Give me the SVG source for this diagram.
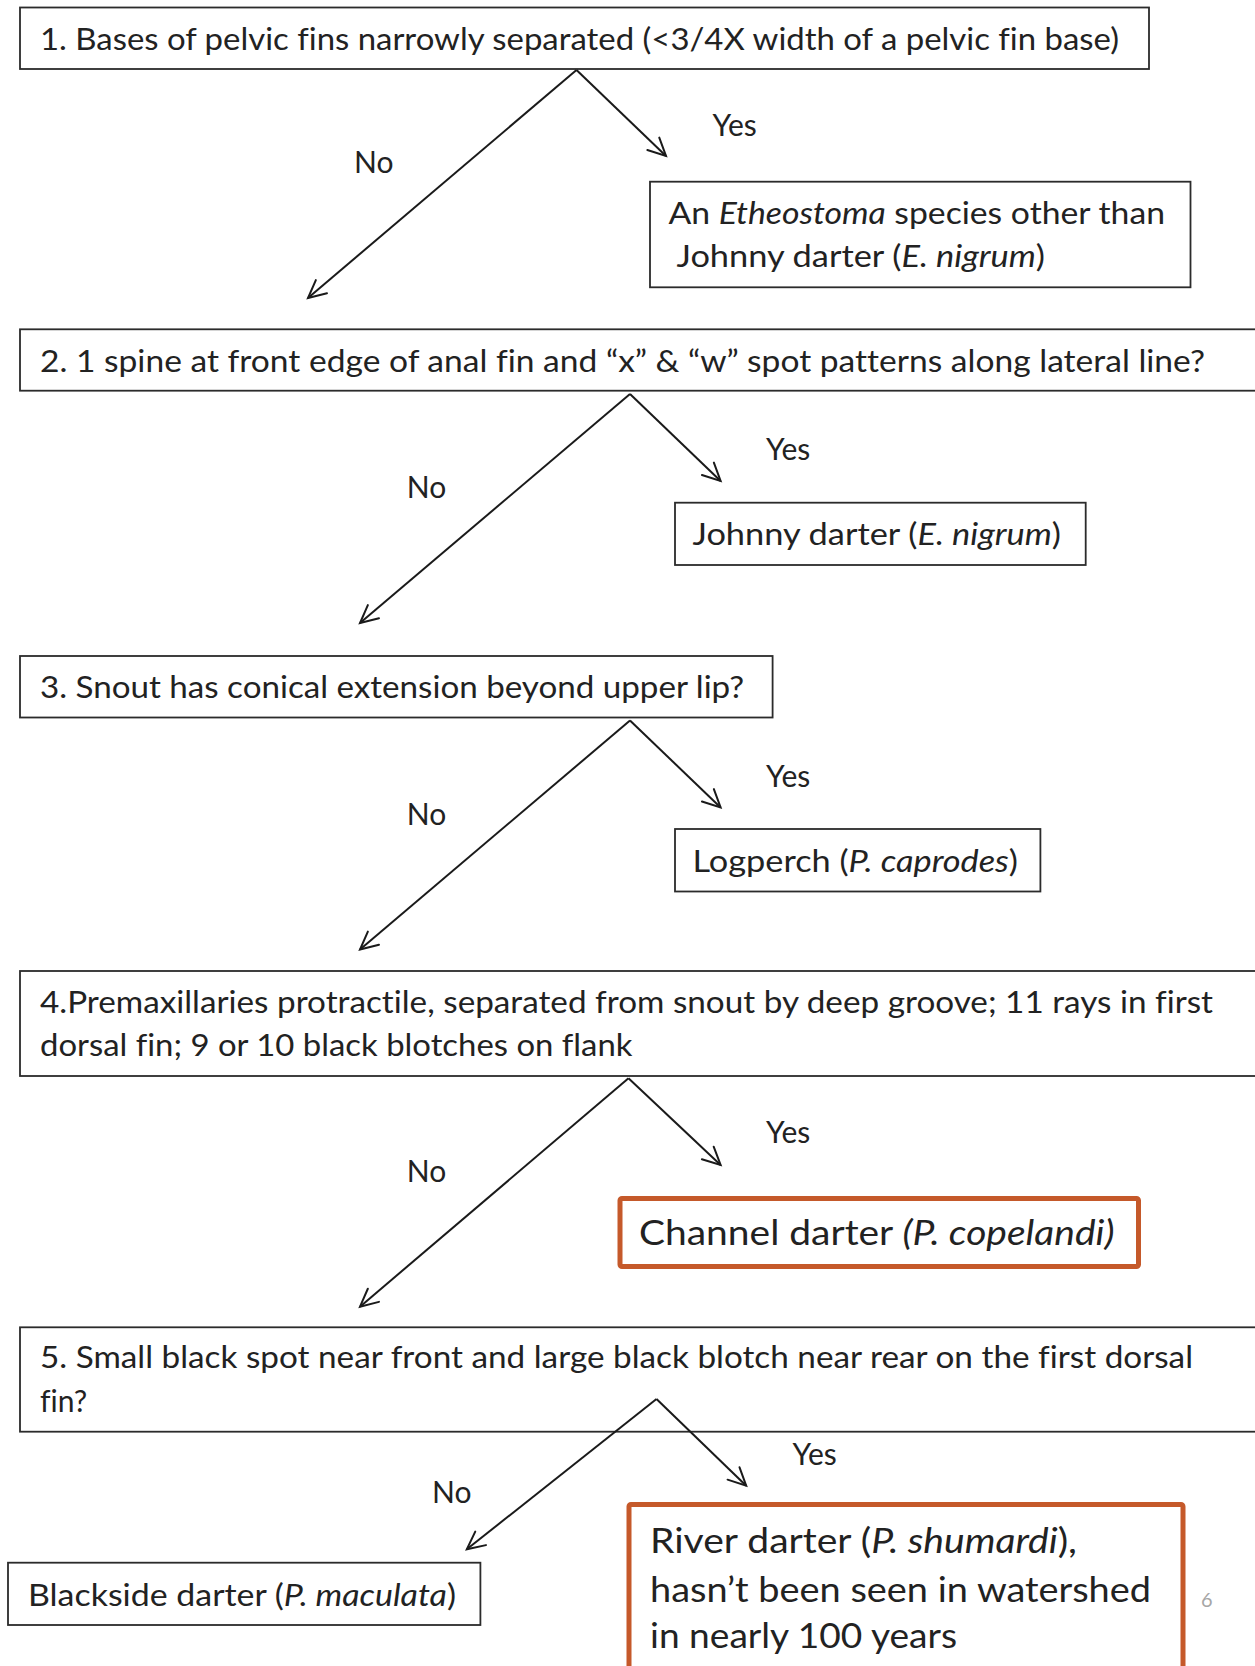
<svg xmlns="http://www.w3.org/2000/svg" width="1255" height="1666" viewBox="0 0 1255 1666">
<style>
  text { font-variant-ligatures: none; font-feature-settings: "liga" 0, "clig" 0; }
  .box { fill: #ffffff; stroke: #2b2b2b; stroke-width: 1.8; }
  .hl { fill: #ffffff; stroke: #C5592A; stroke-width: 5; stroke-linejoin: round; }
  .t { font-family: Lato, "Open Sans", "Liberation Sans", sans-serif; font-size: 30px; fill: #222222; }
  .tb { font-family: Lato, "Open Sans", "Liberation Sans", sans-serif; font-size: 35px; fill: #222222; }
  .lbl { font-family: Lato, "Open Sans", "Liberation Sans", sans-serif; font-size: 30px; fill: #222222; }
  .pg { font-family: Lato, "Open Sans", "Liberation Sans", sans-serif; font-size: 20px; fill: #a6a6a6; }
  .i { font-style: italic; }
  .edge { fill: none; stroke: #1a1a1a; stroke-width: 2; marker-end: url(#arr); }
</style>
<defs>
  <marker id="arr" markerUnits="userSpaceOnUse" viewBox="-22 -12 26 24" markerWidth="26" markerHeight="24" refX="0" refY="0" orient="auto" overflow="visible">
    <path d="M-17.6,-8.6 L0,0 L-17.6,8.6" fill="none" stroke="#1a1a1a" stroke-width="2" stroke-linecap="round" stroke-linejoin="miter"/>
  </marker>
</defs>
<rect x="0" y="0" width="1255" height="1666" fill="#ffffff"/>

<g id="q1">
  <rect class="box" x="20" y="7.5" width="1129" height="61.5"/>
  <text class="t" x="40" y="50" textLength="1079" lengthAdjust="spacingAndGlyphs">1. Bases of pelvic fins narrowly separated (&lt;3/4X width of a pelvic fin base)</text>
</g>
<g id="a1">
  <rect class="box" x="650" y="181.7" width="540.5" height="105.6"/>
  <text class="t" x="668.5" y="224" textLength="496.5" lengthAdjust="spacingAndGlyphs">An <tspan class="i">Etheostoma</tspan> species other than</text>
  <text class="t" x="676.5" y="266.5" textLength="368.5" lengthAdjust="spacingAndGlyphs">Johnny darter (<tspan class="i">E. nigrum</tspan>)</text>
</g>

<g id="q2">
  <rect class="box" x="20" y="329.3" width="1250" height="61.4"/>
  <text class="t" x="40" y="371.7" textLength="1165" lengthAdjust="spacingAndGlyphs">2. 1 spine at front edge of anal fin and “x” &amp; “w” spot patterns along lateral line?</text>
</g>
<g id="a2">
  <rect class="box" x="675" y="502.7" width="410.7" height="62.3"/>
  <text class="t" x="692.5" y="545" textLength="368.5" lengthAdjust="spacingAndGlyphs">Johnny darter (<tspan class="i">E. nigrum</tspan>)</text>
</g>

<g id="q3">
  <rect class="box" x="20" y="656" width="752.6" height="61.5"/>
  <text class="t" x="40" y="698" textLength="704" lengthAdjust="spacingAndGlyphs">3. Snout has conical extension beyond upper lip?</text>
</g>
<g id="a3">
  <rect class="box" x="675" y="829" width="365.4" height="62.5"/>
  <text class="t" x="692.5" y="871.5" textLength="325.5" lengthAdjust="spacingAndGlyphs">Logperch (<tspan class="i">P. caprodes</tspan>)</text>
</g>

<g id="q4">
  <rect class="box" x="20" y="971" width="1250" height="105"/>
  <text class="t" x="40" y="1013.3" textLength="1173" lengthAdjust="spacingAndGlyphs">4.Premaxillaries protractile, separated from snout by deep groove; 11 rays in first</text>
  <text class="t" x="40" y="1056" textLength="592.5" lengthAdjust="spacingAndGlyphs">dorsal fin; 9 or 10 black blotches on flank</text>
</g>
<g id="a4">
  <rect class="hl" x="620" y="1198.5" width="518.5" height="68" rx="2"/>
  <text class="tb" x="639" y="1245" textLength="475.5" lengthAdjust="spacingAndGlyphs">Channel darter <tspan class="i">(P. copelandi)</tspan></text>
</g>

<g id="q5">
  <rect class="box" x="20" y="1327.3" width="1250" height="104.4"/>
  <text class="t" x="40" y="1368.3" textLength="1153" lengthAdjust="spacingAndGlyphs">5. Small black spot near front and large black blotch near rear on the first dorsal</text>
  <text class="t" x="40" y="1411.7">fin?</text>
</g>
<g id="a5no">
  <rect class="box" x="8" y="1562.7" width="472.4" height="62.3"/>
  <text class="t" x="28" y="1606" textLength="428" lengthAdjust="spacingAndGlyphs">Blackside darter (<tspan class="i">P. maculata</tspan>)</text>
</g>
<g id="a5yes">
  <rect class="hl" x="629" y="1504.5" width="554" height="220" rx="2"/>
  <text class="tb" x="650" y="1552.5" textLength="427" lengthAdjust="spacingAndGlyphs">River darter (<tspan class="i">P. shumardi</tspan>),</text>
  <text class="tb" x="650" y="1601.5" textLength="501" lengthAdjust="spacingAndGlyphs">hasn’t been seen in watershed</text>
  <text class="tb" x="650" y="1648" textLength="307" lengthAdjust="spacingAndGlyphs">in nearly 100 years</text>
</g>

<g id="connectors">
  <path class="edge" d="M576.5,70 L308,298"/>
  <path class="edge" d="M576.5,70 L666,156"/>
  <path class="edge" d="M630,394 L360,623"/>
  <path class="edge" d="M630,394 L720.6,481"/>
  <path class="edge" d="M630,720.5 L360,949.5"/>
  <path class="edge" d="M630,720.5 L720.6,807.5"/>
  <path class="edge" d="M628.5,1078.3 L360,1306.7"/>
  <path class="edge" d="M628.5,1078.3 L720.6,1165"/>
  <path class="edge" d="M656.5,1399 L466.8,1549.3"/>
  <path class="edge" d="M656.5,1399 L746.2,1485.7"/>
  <text class="lbl" x="712.6" y="136">Yes</text>
  <text class="lbl" x="354" y="173">No</text>
  <text class="lbl" x="766" y="460">Yes</text>
  <text class="lbl" x="406.7" y="498">No</text>
  <text class="lbl" x="766" y="786.5">Yes</text>
  <text class="lbl" x="406.7" y="824.5">No</text>
  <text class="lbl" x="766" y="1143.3">Yes</text>
  <text class="lbl" x="406.7" y="1181.7">No</text>
  <text class="lbl" x="792.6" y="1465">Yes</text>
  <text class="lbl" x="432" y="1503.3">No</text>
</g>

<text class="pg" x="1201" y="1606.5">6</text>
</svg>
